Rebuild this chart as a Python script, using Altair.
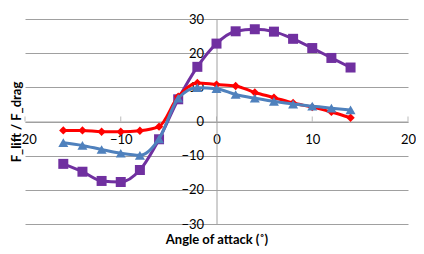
import altair as alt
import pandas as pd

angles = [-16, -14, -12, -10, -8, -6, -4, -2, 0, 2, 4, 6, 8, 10, 12, 14]
purple_vals = [-12.4, -14.7, -17.4, -17.7, -14.2, -5.2, 6.5, 16.0, 22.8, 26.4, 27.0, 26.3, 24.2, 21.5, 18.6, 15.8]
red_vals = [-2.6, -2.6, -3.0, -3.0, -2.7, -1.5, 7.3, 11.3, 10.8, 10.4, 8.5, 7.0, 5.4, 4.2, 2.8, 1.1]
blue_vals = [-6.2, -7.0, -8.2, -9.3, -9.9, -5.1, 6.8, 9.9, 9.6, 7.9, 6.8, 5.9, 5.1, 4.5, 3.9, 3.4]
x_ticks = [-20, -10, 0, 10, 20]
y_ticks = [-30, -20, -10, 0, 10, 20, 30]

W, H = 383, 205
FONT = "Lato"

xs = alt.Scale(domain=[-20, 20], nice=False, zero=False)
ys = alt.Scale(domain=[-30, 30], nice=False, zero=False)

xax = alt.Axis(values=x_ticks, offset=-H / 2, grid=False, tickSize=0,
               labelPadding=12, labelFontSize=13, labelFont=FONT,
               labelColor="#000000", domainColor="#A0A0A0",
               title="Angle of attack (˚)", titleFont=FONT, titleFontSize=13,
               titleFontWeight="bold", titleY=H / 2 + 19, titleBaseline="alphabetic",
               titleColor="#000000", labelFlush=False, labelOverlap=False)
yax = alt.Axis(values=y_ticks, offset=-W / 2, grid=True, gridColor="#A0A0A0",
               tickSize=0, labelPadding=13, labelFontSize=13, labelFont=FONT,
               labelColor="#000000", domainColor="#A0A0A0",
               title="F_lift / F_drag", titleFont=FONT, titleFontSize=13,
               titleFontWeight="bold", titleX=-W / 2 - 9, titleY=H / 2,
               titleBaseline="middle", titleColor="#000000",
               labelFlush=False, labelOverlap=False)


def series(vals, color, shape, size):
    df = pd.DataFrame({"angle": angles, "val": vals})
    base = alt.Chart(df).encode(
        x=alt.X("angle:Q", scale=xs, axis=xax),
        y=alt.Y("val:Q", scale=ys, axis=yax),
    )
    line = base.mark_line(color=color, strokeWidth=3, interpolate="monotone")
    pts = base.mark_point(shape=shape, filled=True, color=color, size=size, opacity=1)
    return line + pts


tick_df = pd.DataFrame({"angle": x_ticks, "val": [0] * len(x_ticks)})
ticks = alt.Chart(tick_df).mark_tick(orient="vertical", size=5, color="#A0A0A0", thickness=1, yOffset=-2.5).encode(
    x=alt.X("angle:Q", scale=xs, axis=xax),
    y=alt.Y("val:Q", scale=ys, axis=yax),
)

chart = alt.layer(
    series(purple_vals, "#7030A0", "square", 100),
    ticks,
    series(red_vals, "#FF0000", "diamond", 70),
    series(blue_vals, "#4F81BD", "triangle-up", 100),
).properties(
    width=W, height=H,
    background="#FFFFFF",
    autosize=alt.AutoSizeParams(type="none"),
    padding={"left": 17, "top": 11, "right": 8, "bottom": 22},
).configure_view(strokeWidth=0)

chart.save("out.html", embed_options={"renderer": "svg", "actions": False})
